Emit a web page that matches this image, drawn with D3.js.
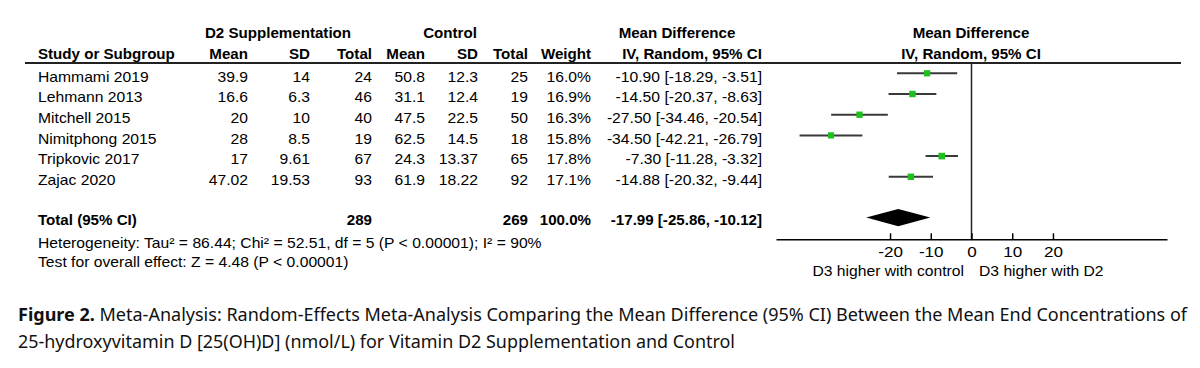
<!DOCTYPE html>
<html>
<head>
<meta charset="utf-8">
<script src="https://cdn.jsdelivr.net/npm/d3@7"></script>
<style>
  html, body { margin: 0; padding: 0; background: #fff; }
  svg { display: block; }
  .t { font-family: "Liberation Sans", Arial, sans-serif; font-size: 14px; fill: #000; }
  .b { font-weight: bold; }
  .cap { font-family: "Noto Sans", "Open Sans", sans-serif; font-size: 17.5px; fill: #111; }
</style>
</head>
<body>
<svg id="chart" width="1200" height="368"></svg>
<script>
// ---------------- DATA ----------------
const studies   = ["Hammami 2019", "Lehmann 2013", "Mitchell 2015", "Nimitphong 2015", "Tripkovic 2017", "Zajac 2020"];
const d2Mean    = ["39.9", "16.6", "20", "28", "17", "47.02"];
const d2SD      = ["14", "6.3", "10", "8.5", "9.61", "19.53"];
const d2Total   = [24, 46, 40, 19, 67, 93];
const ctrlMean  = ["50.8", "31.1", "47.5", "62.5", "24.3", "61.9"];
const ctrlSD    = ["12.3", "12.4", "22.5", "14.5", "13.37", "18.22"];
const ctrlTotal = [25, 19, 50, 18, 65, 92];
const weights   = [16.0, 16.9, 16.3, 15.8, 17.8, 17.1];
const md        = [-10.90, -14.50, -27.50, -34.50, -7.30, -14.88];
const ciLow     = [-18.29, -20.37, -34.46, -42.21, -11.28, -20.32];
const ciHigh    = [-3.51, -8.63, -20.54, -26.79, -3.32, -9.44];
const totalD2   = 289;
const totalCtrl = 269;
const totalWeight = 100.0;
const totalMD   = -17.99;
const totalLow  = -25.86;
const totalHigh = -10.12;
const tickValues = [-20, -10, 0, 10, 20];
const heterogeneityText = "Heterogeneity: Tau\u00B2 = 86.44; Chi\u00B2 = 52.51, df = 5 (P < 0.00001); I\u00B2 = 90%";
const overallText = "Test for overall effect: Z = 4.48 (P < 0.00001)";
const favoursLeft = "D3 higher with control";
const favoursRight = "D3 higher with D2";
const captionBold = "Figure 2.";
const captionLine1 = " Meta-Analysis: Random-Effects Meta-Analysis Comparing the Mean Difference (95% CI) Between the Mean End Concentrations of";
const captionLine2 = "25-hydroxyvitamin D [25(OH)D] (nmol/L) for Vitamin D2 Supplementation and Control";

// ---------------- LAYOUT ----------------
const svg = d3.select("#chart");
const SXR = 1.12, SXB = 1.08;   // horizontal stretch of the original rendering
const rowY0 = 73.3, rowStep = 20.7, textDrop = 8.2;
const rowIdx = d3.range(studies.length);
const yRow = d3.scaleLinear().domain([0, 1]).range([rowY0, rowY0 + rowStep]);

function txt(x, y, s, opts = {}) {
  const bold = !!opts.bold;
  const g = svg.append("g").attr("transform", `translate(${x},${y}) scale(${bold ? SXB : SXR},1)`);
  g.append("text").attr("class", "t" + (bold ? " b" : ""))
    .attr("text-anchor", opts.anchor || "start").text(s);
  return g;
}

// column anchors (right edges unless noted)
const col = { study: 38, d2m: 248, d2s: 310, d2t: 372, cm: 425, cs: 478, ct: 528, w: 591, ci: 762 };

// headers
txt(278, 37.5, "D2 Supplementation", { bold: true, anchor: "middle" });
txt(450, 37.5, "Control", { bold: true, anchor: "middle" });
txt(677, 37.5, "Mean Difference", { bold: true, anchor: "middle" });
txt(971, 37.5, "Mean Difference", { bold: true, anchor: "middle" });
txt(col.study, 59, "Study or Subgroup", { bold: true });
txt(col.d2m, 59, "Mean", { bold: true, anchor: "end" });
txt(col.d2s, 59, "SD", { bold: true, anchor: "end" });
txt(col.d2t, 59, "Total", { bold: true, anchor: "end" });
txt(col.cm, 59, "Mean", { bold: true, anchor: "end" });
txt(col.cs, 59, "SD", { bold: true, anchor: "end" });
txt(col.ct, 59, "Total", { bold: true, anchor: "end" });
txt(col.w, 59, "Weight", { bold: true, anchor: "end" });
txt(692, 59, "IV, Random, 95% CI", { bold: true, anchor: "middle" });
txt(971, 59, "IV, Random, 95% CI", { bold: true, anchor: "middle" });

svg.append("line").attr("x1", 25).attr("x2", 1181).attr("y1", 63).attr("y2", 63)
  .attr("stroke", "#222").attr("stroke-width", 2);

// rows
const f2 = d3.format(".2f"), f1 = d3.format(".1f");
const fmt = v => f2(v).replace("\u2212", "-");
rowIdx.forEach(i => {
  const y = yRow(i) + textDrop;
  txt(col.study, y, studies[i]);
  txt(col.d2m, y, d2Mean[i], { anchor: "end" });
  txt(col.d2s, y, d2SD[i], { anchor: "end" });
  txt(col.d2t, y, String(d2Total[i]), { anchor: "end" });
  txt(col.cm, y, ctrlMean[i], { anchor: "end" });
  txt(col.cs, y, ctrlSD[i], { anchor: "end" });
  txt(col.ct, y, String(ctrlTotal[i]), { anchor: "end" });
  txt(col.w, y, f1(weights[i]) + "%", { anchor: "end" });
  txt(col.ci, y, `${fmt(md[i])} [${fmt(ciLow[i])}, ${fmt(ciHigh[i])}]`, { anchor: "end" });
});

// total row
const yTotalText = 224.5;
txt(col.study, yTotalText, "Total (95% CI)", { bold: true });
txt(col.d2t, yTotalText, String(totalD2), { bold: true, anchor: "end" });
txt(col.ct, yTotalText, String(totalCtrl), { bold: true, anchor: "end" });
txt(col.w, yTotalText, f1(totalWeight) + "%", { bold: true, anchor: "end" });
txt(col.ci, yTotalText, `${fmt(totalMD)} [${fmt(totalLow)}, ${fmt(totalHigh)}]`, { bold: true, anchor: "end" });
txt(col.study, 247.5, heterogeneityText);
txt(col.study, 266.5, overallText);

// ---------------- FOREST PLOT ----------------
const x = d3.scaleLinear().domain([-48, 48]).range([776, 1167]);
const axisY = 239.3;
const boxSize = d3.scaleSqrt().domain([0, 20]).range([0, 7]);

// zero line
svg.append("line").attr("x1", x(0)).attr("x2", x(0)).attr("y1", 63).attr("y2", axisY)
  .attr("stroke", "#222").attr("stroke-width", 1.5);

// CI lines
svg.append("g").selectAll("line").data(rowIdx).join("line")
  .attr("x1", i => x(ciLow[i])).attr("x2", i => x(ciHigh[i]))
  .attr("y1", i => yRow(i)).attr("y2", i => yRow(i))
  .attr("stroke", "#3a3a3a").attr("stroke-width", 2);

// boxes
svg.append("g").selectAll("rect").data(rowIdx).join("rect")
  .attr("x", i => x(md[i]) - boxSize(weights[i]) / 2)
  .attr("y", i => yRow(i) - boxSize(weights[i]) / 2)
  .attr("width", i => boxSize(weights[i]))
  .attr("height", i => boxSize(weights[i]))
  .attr("fill", "#1fbf1f");

// diamond
const yD = 217.6, hD = 8.7;
svg.append("path")
  .attr("d", d3.line()([[x(totalLow), yD], [x(totalMD), yD - hD], [x(totalHigh), yD], [x(totalMD), yD + hD]]) + "Z")
  .attr("fill", "#000");

// axis
const axis = d3.axisBottom(x).tickValues(tickValues).tickSizeInner(-6).tickSizeOuter(0).tickPadding(7.5)
  .tickFormat(d => String(d));
const gAxis = svg.append("g").attr("transform", `translate(0,${axisY})`).call(axis);
gAxis.select(".domain").attr("stroke", "#000").attr("stroke-width", 1.5);
gAxis.selectAll(".tick line").attr("stroke", "#000").attr("stroke-width", 1.5);
gAxis.selectAll(".tick text")
  .attr("font-family", "Liberation Sans, Arial, sans-serif").attr("font-size", 14)
  .attr("fill", "#000").attr("transform", `scale(${SXR + 0.1},1)`);

txt(x(0) - 7.5, 276, favoursLeft, { anchor: "end" });
txt(x(0) + 7.5, 276, favoursRight);

// ---------------- CAPTION ----------------
const c1 = svg.append("text").attr("class", "cap").attr("x", 18).attr("y", 320.5)
  .attr("textLength", 1169).attr("lengthAdjust", "spacingAndGlyphs");
c1.append("tspan").attr("font-weight", "bold").text(captionBold);
c1.append("tspan").text(captionLine1);
svg.append("text").attr("class", "cap").attr("x", 18).attr("y", 347.8)
  .attr("textLength", 717).attr("lengthAdjust", "spacingAndGlyphs").text(captionLine2);
</script>
</body>
</html>
